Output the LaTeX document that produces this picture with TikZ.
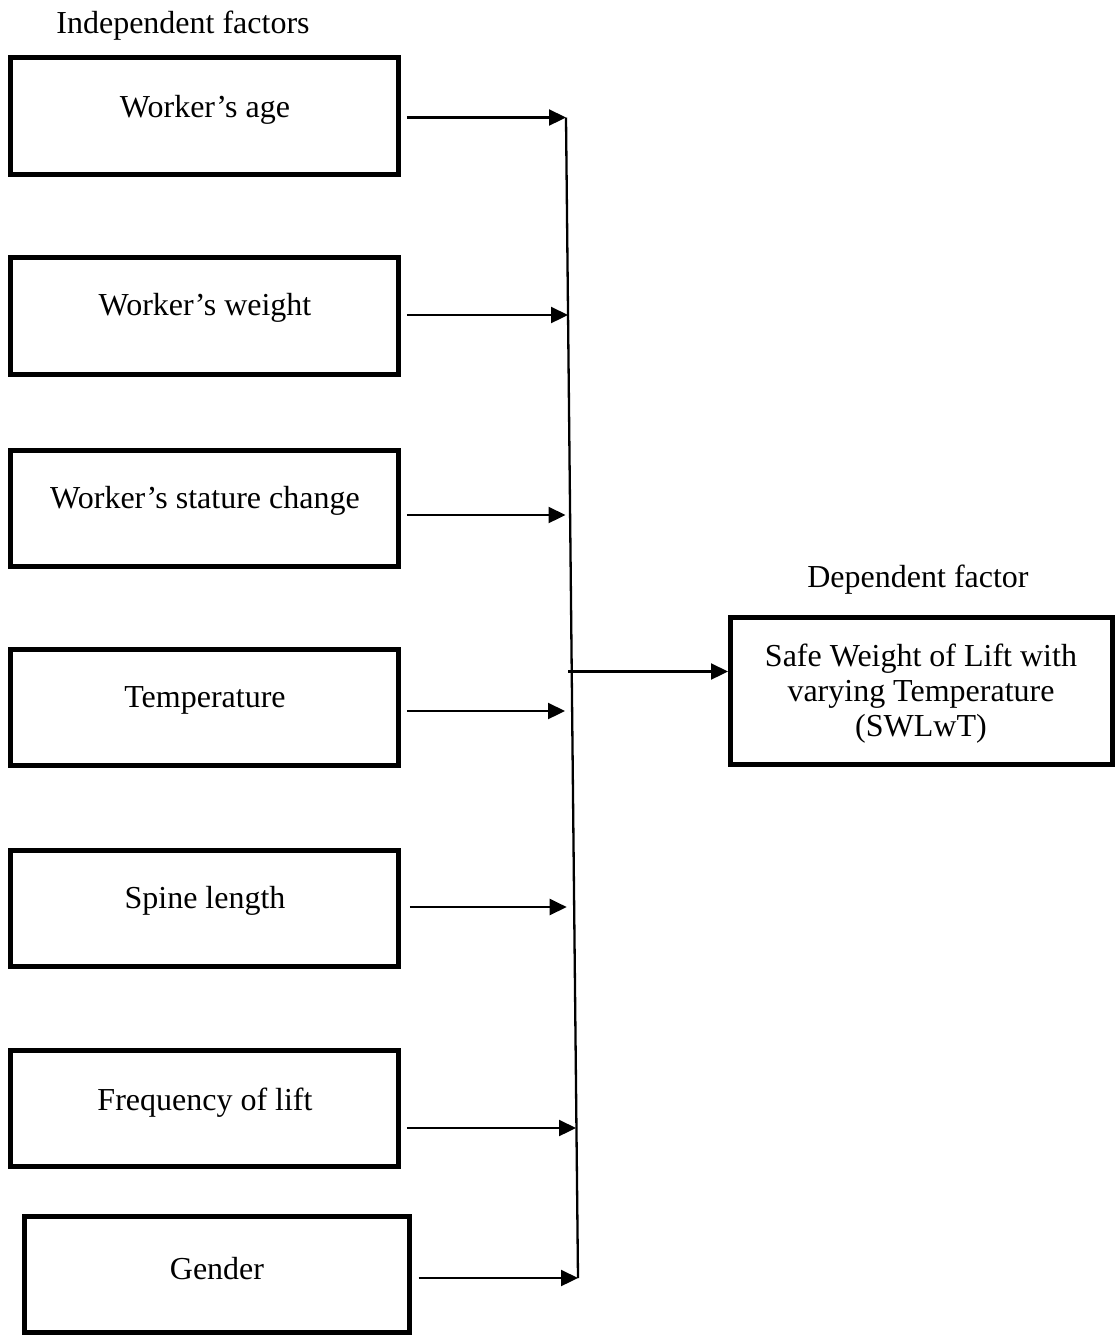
\documentclass[tikz,border=0pt]{standalone}
\usepackage{fontspec}
\setmainfont{Liberation Serif}
\usetikzlibrary{arrows.meta,calc}
\begin{document}
\begin{tikzpicture}[x=0.5pt,y=-0.5pt,
  box/.style={draw,line width=2.5pt,inner sep=0pt,minimum width=194pt,minimum height=58.25pt},
  lbl/.style={font=\fontsize{16}{17.5}\selectfont,inner sep=0pt,align=center},
  arr/.style={line width=1.15pt,-{Triangle[length=8.5pt,width=8pt]}},
  ln/.style={line width=1.15pt}]
\useasboundingbox (0,0) rectangle (1115,1335);

% headings
\node[lbl] (hind) at (183,26) {Independent factors};
\node[lbl] (hdep) at (918,580) {Dependent factor};

% independent boxes
\node[box] (b1) at (204.25,115.75) {};
\node[box] (b2) at (204.25,315.75) {};
\node[box] (b3) at (204.25,508.5) {};
\node[box] (b4) at (204.25,707.5) {};
\node[box] (b5) at (204.25,908.5) {};
\node[box] (b6) at (204.25,1108.5) {};
\node[box,minimum width=192.5pt] (b7) at (216.5,1274.5) {};

\node[lbl] (t1) at (205,110) {Worker’s age};
\node[lbl] (t2) at (205,308) {Worker’s weight};
\node[lbl] (t3) at (205,501) {Worker’s stature change};
\node[lbl] (t4) at (205,700) {Temperature};
\node[lbl] (t5) at (205,901) {Spine length};
\node[lbl] (t6) at (205,1103) {Frequency of lift};
\node[lbl] (t7) at (217,1269) {Gender};

% dependent box
\node[box,minimum width=191pt,minimum height=73.5pt] (dep) at (921.5,690.5) {};
\node[lbl] (tdep) at (921,693.5) {Safe Weight of Lift with\\varying Temperature\\(SWLwT)};

% spine
\coordinate (s1) at (566,117.5);
\coordinate (s2) at (568,315);
\coordinate (s3) at (569.5,515);
\coordinate (s4) at (571,711);
\coordinate (s5) at (572.7,907);
\coordinate (s6) at (576,1128);
\coordinate (s7) at (578,1278);
\coordinate (sm) at (568,671.5);
\draw[ln] (s1) -- (s7);

% arrows to spine
\draw[arr] ([xshift=3pt]b1.east |- s1) -- (s1);
\draw[arr] ([xshift=3pt]b2.east |- s2) -- (s2);
\draw[arr,shorten >=2pt] ([xshift=3pt]b3.east |- s3) -- (s3);
\draw[arr,shorten >=3pt] ([xshift=3pt]b4.east |- s4) -- (s4);
\draw[arr,shorten >=3pt] ([xshift=4.5pt]b5.east |- s5) -- (s5);
\draw[arr] ([xshift=3pt]b6.east |- s6) -- (s6);
\draw[arr] ([xshift=3.5pt]b7.east |- s7) -- (s7);

% arrow to dependent factor
\draw[arr] (sm) -- (dep.west |- sm);
\end{tikzpicture}
\end{document}
